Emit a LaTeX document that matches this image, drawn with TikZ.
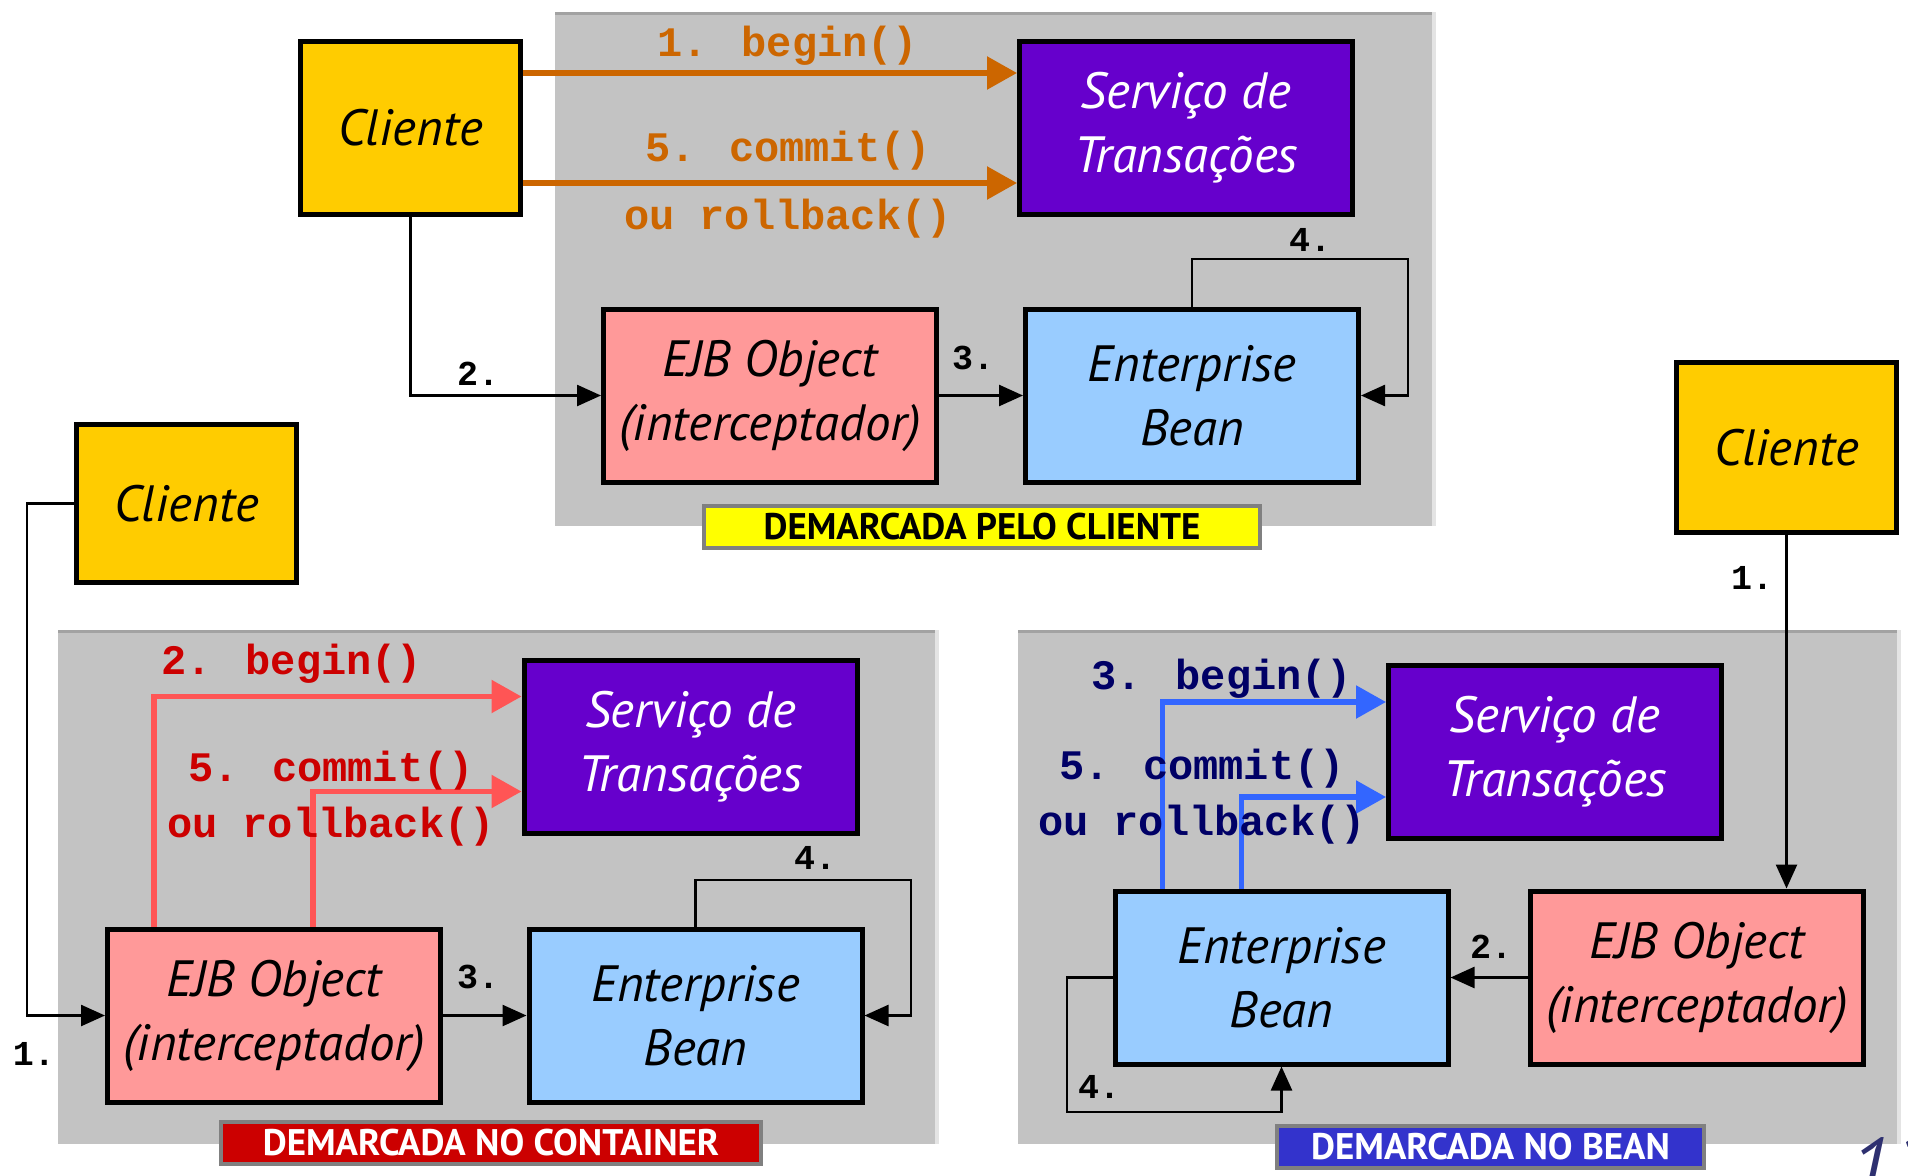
\documentclass[tikz,border=0pt]{standalone}
\usepackage{fontspec}
\usetikzlibrary{arrows.meta}
\newfontfamily\gill{PT Sans}
\newfontfamily\courier{Liberation Mono}
\definecolor{clienteyellow}{HTML}{FFCC00}
\definecolor{svcpurple}{HTML}{6600CC}
\definecolor{ejbpink}{HTML}{FF9999}
\definecolor{beanblue}{HTML}{99CCFF}
\definecolor{panelgray}{HTML}{C3C3C3}
\definecolor{paneltop}{HTML}{A2A2A2}
\definecolor{panelside}{HTML}{E4E4E4}
\definecolor{txorange}{HTML}{CC6600}
\definecolor{txred}{HTML}{FF5555}
\definecolor{codered}{HTML}{CC0000}
\definecolor{txblue}{HTML}{3366FF}
\definecolor{codenavy}{HTML}{000066}
\definecolor{tagyellow}{HTML}{FFFF00}
\definecolor{tagred}{HTML}{CC0000}
\definecolor{tagblue}{HTML}{3333CC}
\definecolor{tagrim}{HTML}{808080}
\definecolor{pagenavy}{HTML}{2E3070}

\begin{document}
\begin{tikzpicture}[x=1pt,y=-1pt,
  box/.style={draw=black, line width=5pt, inner sep=0pt, align=center,
    minimum width=333pt, minimum height=173pt,
    font=\gill\itshape\fontsize{51}{64}\selectfont},
  cliente/.style={box, fill=clienteyellow, minimum width=220pt},
  servico/.style={box, fill=svcpurple, text=white},
  ejbobj/.style={box, fill=ejbpink},
  bean/.style={box, fill=beanblue},
  tag/.style={draw=tagrim, line width=4pt, inner sep=0pt, minimum height=42pt,
    font=\gill\bfseries\fontsize{37}{37}\selectfont},
  code/.style={font=\courier\bfseries\fontsize{42}{42}\selectfont, inner sep=0pt},
  num/.style={font=\courier\bfseries\fontsize{35}{35}\selectfont, inner sep=0pt},
  link/.style={line width=2.5pt, -{Triangle[length=24pt,width=21pt]}},
  tx/.style={line width=5.5pt, -{Triangle[length=30pt,width=32pt]}}]

\useasboundingbox (0,0) rectangle (1908,1175);

% panels
\fill[panelgray] (555,12) rectangle (1436,526);
\draw[paneltop, line width=3pt] (555,13.5) -- (1436,13.5);
\draw[panelside, line width=4pt] (1434,12) -- (1434,526);
\fill[panelgray] (58,630) rectangle (939,1144);
\draw[paneltop, line width=3pt] (58,631.5) -- (939,631.5);
\draw[panelside, line width=4pt] (937,630) -- (937,1144);
\fill[panelgray] (1018,630) rectangle (1901,1144);
\draw[paneltop, line width=3pt] (1018,631.5) -- (1901,631.5);
\draw[panelside, line width=4pt] (1899,630) -- (1899,1144);

% demarcada pelo cliente
\draw (410.5,128) node[cliente] (cli1) {Cliente};
\draw (1186,128) node[servico] (srv1) {Servi\c{c}o de\\Transa\c{c}\~{o}es};
\draw (770,395.5) node[ejbobj] (ejb1) {EJB Object\\(interceptador)};
\draw (1192,395.5) node[bean] (bean1) {Enterprise\\Bean};
\draw (982,527) node[tag, fill=tagyellow, minimum width=556pt] (tag1) {DEMARCADA PELO CLIENTE};

\draw[tx, txorange] ([yshift=55pt]cli1.east) -- ([yshift=55pt]srv1.west);
\draw[tx, txorange] ([yshift=-55pt]cli1.east) -- ([yshift=-55pt]srv1.west);
\draw (788,46) node[code, text=txorange] (b1) {1. begin()};
\draw (788,151) node[code, text=txorange] (c1) {5. commit()};
\draw (788,219) node[code, text=txorange] (r1) {ou rollback()};

\draw[link] (cli1.south) |- (ejb1.west);
\draw[link] (ejb1.east) -- (bean1.west);
\coordinate (loop1) at (1408,259);
\draw[link] (bean1.north) |- (loop1) |- (bean1.east);
\draw (478,374) node[num] (n2a) {2.};
\draw (973,358) node[num] (n3a) {3.};
\draw (1310,240) node[num] (n4a) {4.};

% demarcada no container
\draw (186.5,503.5) node[cliente, minimum height=158pt] (cli2) {Cliente};
\draw (690.5,746.5) node[servico] (srv2) {Servi\c{c}o de\\Transa\c{c}\~{o}es};
\draw (274,1015.5) node[ejbobj] (ejb2) {EJB Object\\(interceptador)};
\draw (695.5,1015.5) node[bean] (bean2) {Enterprise\\Bean};
\draw (491,1142.5) node[tag, fill=tagred, text=white, minimum width=540pt] (tag2) {DEMARCADA NO CONTAINER};

\draw[tx, txred] ([xshift=49pt]ejb2.north west) |- ([yshift=50pt]srv2.west);
\draw[tx, txred] ([xshift=208pt]ejb2.north west) |- ([yshift=-45pt]srv2.west);
\draw (292,664) node[code, text=codered] (b2) {2. begin()};
\draw (331,771) node[code, text=codered] (c2) {5. commit()};
\draw (331,827) node[code, text=codered] (r2) {ou rollback()};

\coordinate (turn2) at (27,1015.5);
\draw[link] (cli2.west) -| (turn2) -- (ejb2.west);
\draw[link] (ejb2.east) -- (bean2.west);
\coordinate (loop2) at (911,880);
\draw[link] (bean2.north) |- (loop2) |- (bean2.east);
\draw (34,1054) node[num] (n1b) {1.};
\draw (478,977) node[num] (n3b) {3.};
\draw (815,858) node[num] (n4b) {4.};

% demarcada no bean
\draw (1786.5,447.5) node[cliente, minimum height=170pt] (cli3) {Cliente};
\draw (1555,751.5) node[servico] (srv3) {Servi\c{c}o de\\Transa\c{c}\~{o}es};
\draw (1281.5,977.5) node[bean] (bean3) {Enterprise\\Bean};
\draw (1697,977.5) node[ejbobj] (ejb3) {EJB Object\\(interceptador)};
\draw (1490.5,1147) node[tag, fill=tagblue, text=white, minimum width=427pt] (tag3) {DEMARCADA NO BEAN};

\draw[tx, txblue] ([xshift=50pt]bean3.north west) |- ([yshift=49.5pt]srv3.west);
\draw[tx, txblue] ([xshift=129pt]bean3.north west) |- ([yshift=-45.5pt]srv3.west);
\draw (1222,679) node[code, text=codenavy] (b3) {3. begin()};
\draw (1202,769) node[code, text=codenavy] (c3) {5. commit()};
\draw (1202,825) node[code, text=codenavy] (r3) {ou rollback()};

\draw[link] (cli3.south) -- (cli3.south |- ejb3.north);
\draw[link] (ejb3.west) -- (bean3.east);
\coordinate (loop3) at (1067,1112);
\draw[link] (bean3.west) -| (loop3) -| (bean3.south);
\draw (1752,578) node[num] (n1c) {1.};
\draw (1491,947) node[num] (n2c) {2.};
\draw (1099,1087) node[num] (n4c) {4.};

\draw (1850,1137) node[anchor=north west, inner sep=0pt, text=pagenavy,
  font=\gill\itshape\fontsize{80}{80}\selectfont] (pg) {12};
\end{tikzpicture}
\end{document}
